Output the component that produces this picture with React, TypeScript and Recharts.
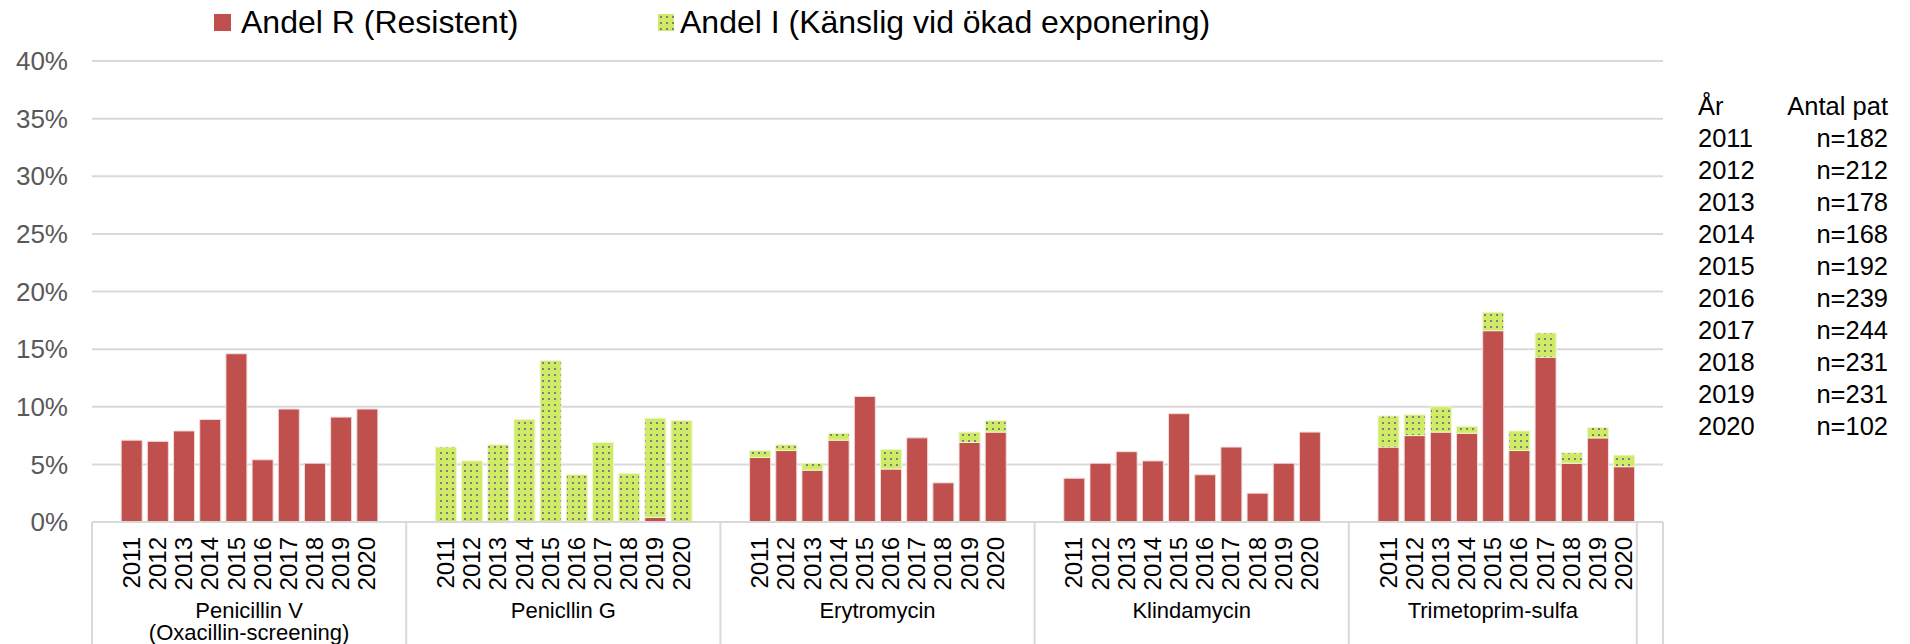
import { BarChart, Bar, XAxis, YAxis, CartesianGrid } from "recharts";

const FONT = "'Liberation Sans', Arial, sans-serif";
const W = 1910;
const H = 644;
const PLOT_LEFT = 92;
const PLOT_RIGHT = 1663;
const PLOT_TOP = 61;
const AXIS_H = 122;
const PLOT_W = PLOT_RIGHT - PLOT_LEFT;

const RED = "#C0504D";
const LIME = "#CFEB65";
const GRID = "#D9D9D9";

const years = ["2011", "2012", "2013", "2014", "2015", "2016", "2017", "2018", "2019", "2020"];
const groupLabels = [
  ["Penicillin V", "(Oxacillin-screening)"],
  ["Penicllin G"],
  ["Erytromycin"],
  ["Klindamycin"],
  ["Trimetoprim-sulfa"],
];

// andel R / andel I in percent, per antibiotic
const penVR = [7.1, 7.0, 7.9, 8.9, 14.6, 5.4, 9.8, 5.1, 9.1, 9.8];
const penVI = [0, 0, 0, 0, 0, 0, 0, 0, 0, 0];
const penGR = [0, 0, 0, 0, 0, 0, 0, 0, 0.4, 0];
const penGI = [6.5, 5.3, 6.7, 8.9, 14.0, 4.1, 6.9, 4.2, 8.6, 8.8];
const eryR = [5.6, 6.2, 4.5, 7.1, 10.9, 4.6, 7.3, 3.4, 6.9, 7.8];
const eryI = [0.6, 0.5, 0.6, 0.6, 0, 1.7, 0, 0, 0.9, 1.0];
const kliR = [3.8, 5.1, 6.1, 5.3, 9.4, 4.1, 6.5, 2.5, 5.1, 7.8];
const kliI = [0, 0, 0, 0, 0, 0, 0, 0, 0, 0];
const triR = [6.5, 7.5, 7.8, 7.7, 16.6, 6.2, 14.3, 5.1, 7.3, 4.8];
const triI = [2.7, 1.8, 2.2, 0.6, 1.6, 1.7, 2.1, 0.9, 0.9, 1.0];

const seriesR = [penVR, penGR, eryR, kliR, triR];
const seriesI = [penVI, penGI, eryI, kliI, triI];

const yTicks = [0, 5, 10, 15, 20, 25, 30, 35, 40];

const patients = ["n=182", "n=212", "n=178", "n=168", "n=192", "n=239", "n=244", "n=231", "n=231", "n=102"];

interface Row {
  key: string;
  year: string;
  group: number;
  first: boolean;
  span: number;
  r?: number;
  i?: number;
}

// excel-style category list: blank slot before each group, blank after
// groups 1-4, and one trailing blank slot at the very end
const rows: Row[] = [];
groupLabels.forEach((_, g) => {
  const start = rows.length;
  rows.push({ key: `b${g}a`, year: "", group: g, first: true, span: 0 });
  years.forEach((y, k) => {
    rows.push({ key: `${g}-${y}`, year: y, group: g, first: false, span: 0, r: seriesR[g][k], i: seriesI[g][k] });
  });
  if (g < groupLabels.length - 1) rows.push({ key: `b${g}b`, year: "", group: g, first: false, span: 0 });
  rows[start].span = rows.length - start;
});
rows.push({ key: "end", year: "", group: -1, first: true, span: 1 });

function CategoryTick(props: any) {
  const { x, y, payload } = props;
  const idx = payload?.index ?? props.index;
  const row = rows[idx];
  if (!row) return null;
  const bw = PLOT_W / rows.length;
  const left = x - bw / 2;
  return (
    <g>
      {row.year && (
        <text
          transform={`translate(${x},${y + 15}) rotate(-90)`}
          textAnchor="end"
          dominantBaseline="central"
          fontSize={24}
          fontFamily={FONT}
          fill="#000"
        >
          {row.year}
        </text>
      )}
      {row.first && <line x1={left} x2={left} y1={y} y2={y + AXIS_H} stroke={GRID} strokeWidth={2} />}
      {idx === rows.length - 1 && (
        <line x1={x + bw / 2} x2={x + bw / 2} y1={y} y2={y + AXIS_H} stroke={GRID} strokeWidth={2} />
      )}
      {row.first && row.group >= 0 &&
        groupLabels[row.group].map((line, li) => (
          <text
            key={li}
            x={left + (row.span * bw) / 2}
            y={y + 96 + li * 22}
            textAnchor="middle"
            fontSize={22}
            fontFamily={FONT}
            fill="#000"
          >
            {line}
          </text>
        ))}
    </g>
  );
}

export default function App() {
  return (
    <div style={{ position: "absolute", left: 0, top: 0, width: W, height: H, background: "#fff", fontFamily: FONT }}>
      <BarChart
        width={W}
        height={H}
        data={rows}
        margin={{ top: PLOT_TOP, right: W - PLOT_RIGHT, bottom: 0, left: 0 }}
        barSize={21}
      >
        <defs>
          <pattern id="dots" width="6" height="6" patternUnits="userSpaceOnUse">
            <rect width="6" height="6" fill={LIME} />
            <rect x="2" y="2" width="2" height="2" fill="#7F7F7F" />
          </pattern>
        </defs>
        <CartesianGrid vertical={false} stroke={GRID} strokeWidth={2} />
        <YAxis
          width={PLOT_LEFT}
          domain={[0, 40]}
          ticks={yTicks}
          tickFormatter={(v: number) => `${v}%`}
          axisLine={false}
          tickLine={false}
          tickSize={0}
          tickMargin={24}
          tick={{ fill: "#595959", fontSize: 26, fontFamily: FONT }}
        />
        <XAxis
          dataKey="key"
          height={AXIS_H}
          interval={0}
          tickLine={false}
          tickSize={0}
          tickMargin={0}
          axisLine={{ stroke: GRID, strokeWidth: 2 }}
          tick={<CategoryTick />}
        />
        <Bar dataKey="r" stackId="a" fill={RED} stroke="#F2DCDB" strokeWidth={1} isAnimationActive={false} />
        <Bar dataKey="i" stackId="a" fill="url(#dots)" stroke="#EEF6CC" strokeWidth={1} isAnimationActive={false} />
      </BarChart>

      {/* legend */}
      <div style={{ position: "absolute", left: 214, top: 4, display: "flex", alignItems: "center", height: 36, fontSize: 32, color: "#000" }}>
        <span style={{ width: 17, height: 17, background: RED, display: "inline-block", marginRight: 10 }} />
        <span>Andel R (Resistent)</span>
      </div>
      <div style={{ position: "absolute", left: 658, top: 4, display: "flex", alignItems: "center", height: 36, fontSize: 32, color: "#000" }}>
        <svg width={16} height={17} style={{ marginRight: 6 }}>
          <rect width={16} height={17} fill="url(#dots)" />
        </svg>
        <span>Andel I (Känslig vid ökad exponering)</span>
      </div>

      {/* patient counts */}
      <div style={{ position: "absolute", left: 1698, top: 90, width: 190, fontSize: 25.5, lineHeight: "32px", color: "#000" }}>
        <div style={{ display: "flex", justifyContent: "space-between" }}>
          <span>År</span>
          <span>Antal pat</span>
        </div>
        {years.map((y, k) => (
          <div key={y} style={{ display: "flex", justifyContent: "space-between" }}>
            <span>{y}</span>
            <span>{patients[k]}</span>
          </div>
        ))}
      </div>
    </div>
  );
}
